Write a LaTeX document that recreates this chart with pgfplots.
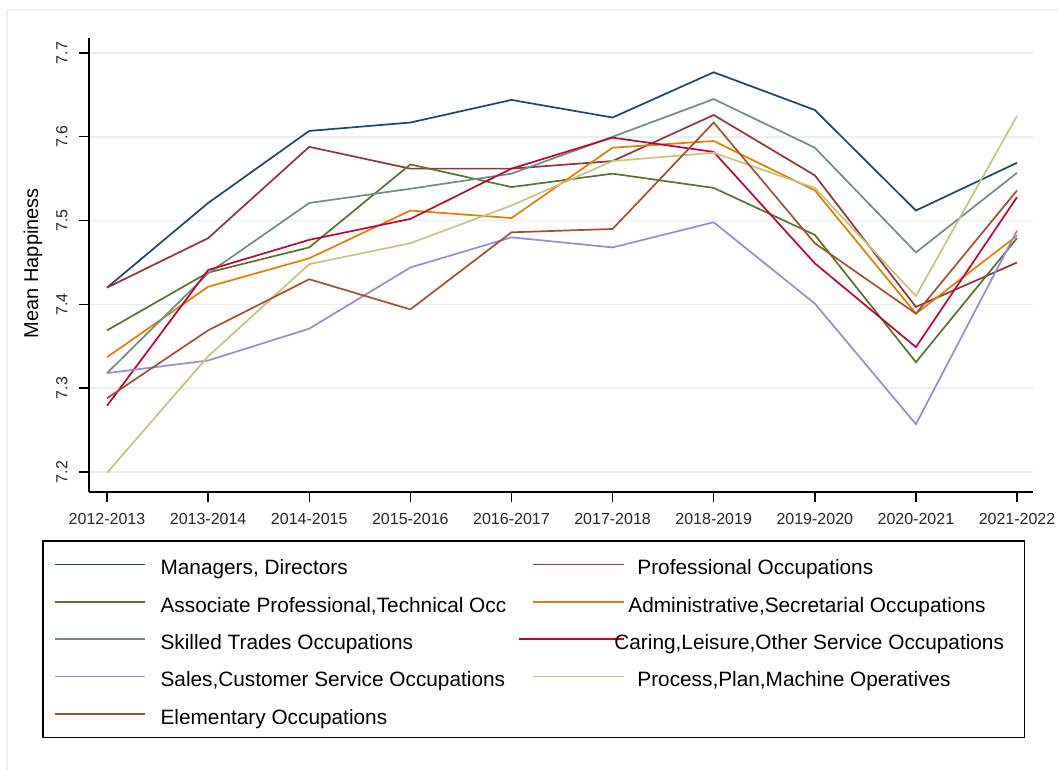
\documentclass[border=0pt]{standalone}
\usepackage{pgfplots}
\pgfplotsset{compat=1.18}
\usepackage{pgfplotstable}
\usepackage{fontspec}
\setmainfont{Liberation Sans}
\definecolor{cNavy}{RGB}{26,71,111}
\definecolor{cMaroon}{RGB}{144,53,59}
\definecolor{cGreen}{RGB}{85,117,47}
\definecolor{cOrange}{RGB}{227,126,0}
\definecolor{cTeal}{RGB}{110,142,132}
\definecolor{cCran}{RGB}{193,5,52}
\definecolor{cLav}{RGB}{147,141,210}
\definecolor{cKhaki}{RGB}{202,194,126}
\definecolor{cSienna}{RGB}{160,82,45}
\definecolor{gridC}{RGB}{232,240,242}
\definecolor{frameC}{RGB}{236,241,243}

\pgfplotstableread{
idx Man Prof Assoc Admin Skill Care Sales Proc Elem
0 7.420 7.420 7.369 7.337 7.318 7.279 7.318 7.199 7.288
1 7.521 7.479 7.438 7.421 7.437 7.441 7.333 7.338 7.369
2 7.607 7.588 7.468 7.455 7.521 7.477 7.371 7.448 7.430
3 7.617 7.562 7.567 7.512 7.538 7.502 7.444 7.473 7.394
4 7.644 7.562 7.540 7.503 7.556 7.562 7.480 7.518 7.486
5 7.623 7.571 7.556 7.587 7.600 7.599 7.468 7.571 7.490
6 7.677 7.626 7.539 7.595 7.645 7.582 7.498 7.581 7.617
7 7.632 7.554 7.483 7.536 7.587 7.449 7.401 7.539 7.473
8 7.512 7.397 7.331 7.389 7.462 7.349 7.257 7.410 7.389
9 7.569 7.450 7.479 7.482 7.557 7.528 7.488 7.625 7.536
}\datatable

\newcommand{\LA}[1]{\makebox[387pt][l]{\hspace{15pt}#1\rule[-2pt]{0pt}{24pt}}}
\newcommand{\LB}[2][13pt]{\makebox[389pt][l]{\hspace{#1}#2\rule[-2pt]{0pt}{24pt}}}

\begin{document}
\begin{tikzpicture}
\useasboundingbox (-89pt,-277pt) rectangle (970pt,492pt);
\fill[white] (-89pt,-277pt) rectangle (970pt,492pt);
\draw[color=frameC, line width=1.5pt] (-82pt,-290pt) -- (-82pt,482pt) -- (990pt,482pt);
\begin{axis}[
  scale only axis, width=944pt, height=454pt,
  xmin=-0.178, xmax=9.158, ymin=7.1761, ymax=7.7179,
  axis x line*=bottom, axis y line*=left,
  axis line style={line width=1.6pt, black},
  tick align=outside, major tick length=10pt,
  tick style={line width=1.4pt, black},
  xtick={0,...,9},
  xticklabels={2012-2013,2013-2014,2014-2015,2015-2016,2016-2017,2017-2018,2018-2019,2019-2020,2020-2021,2021-2022},
  xticklabel style={font=\fontsize{16}{18}\selectfont, text=black!85},
  xticklabel shift=8pt,
  ytick={7.2,7.3,7.4,7.5,7.6,7.7},
  yticklabel style={font=\fontsize{16}{18}\selectfont, rotate=90, anchor=south, text=black!85,
     /pgf/number format/fixed, /pgf/number format/precision=1, /pgf/number format/fixed zerofill,
     /pgf/number format/assume math mode=true},
  yticklabel shift=8pt,
  ymajorgrids, grid style={line width=1.5pt, gridC},
  ylabel={Mean Happiness},
  ylabel style={at={(axis description cs:-0.0593,0.504)}, anchor=center, font=\fontsize{20}{24}\selectfont},
  legend columns=2,
  legend cell align=left,
  legend image code/.code={\draw[#1, line width=1.8pt] (0pt,0pt) -- (90pt,0pt);},
  legend style={at={(axis description cs:0,0)}, anchor=north west, xshift=-47pt, yshift=-48pt,
     draw=black, line width=1.6pt, inner xsep=11pt, inner ysep=12pt,
     row sep=13.8pt, column sep=0pt,
     nodes={inner sep=0pt, font=\fontsize{20.8}{24}\selectfont}},
  every axis plot/.append style={line width=1.7pt},
]
\addplot[cNavy] table[x=idx,y=Man]{\datatable};
\addlegendentry{\LA{Managers, Directors}}
\addplot[cMaroon] table[x=idx,y=Prof]{\datatable};
\addlegendentry{\LB{Professional Occupations}}
\addplot[cGreen] table[x=idx,y=Assoc]{\datatable};
\addlegendentry{\LA{Associate Professional,Technical Occ}}
\addplot[cOrange] table[x=idx,y=Admin]{\datatable};
\addlegendentry{\LB[4pt]{Administrative,Secretarial Occupations}}
\addplot[cTeal] table[x=idx,y=Skill]{\datatable};
\addlegendentry{\LA{Skilled Trades Occupations}}
\addplot[cCran, legend image code/.code={\path (0pt,0pt) -- (90pt,0pt); \draw[cCran, line width=1.8pt, overlay] (-14pt,0pt) -- (72pt,0pt);}] table[x=idx,y=Care]{\datatable};
\addlegendentry{\LB[-10pt]{Caring,Leisure,Other Service Occupations}}
\addplot[cLav] table[x=idx,y=Sales]{\datatable};
\addlegendentry{\LA{Sales,Customer Service Occupations}}
\addplot[cKhaki] table[x=idx,y=Proc]{\datatable};
\addlegendentry{\LB{Process,Plan,Machine Operatives}}
\addplot[cSienna] table[x=idx,y=Elem]{\datatable};
\addlegendentry{\LA{Elementary Occupations}}
\end{axis}
\end{tikzpicture}
\end{document}
